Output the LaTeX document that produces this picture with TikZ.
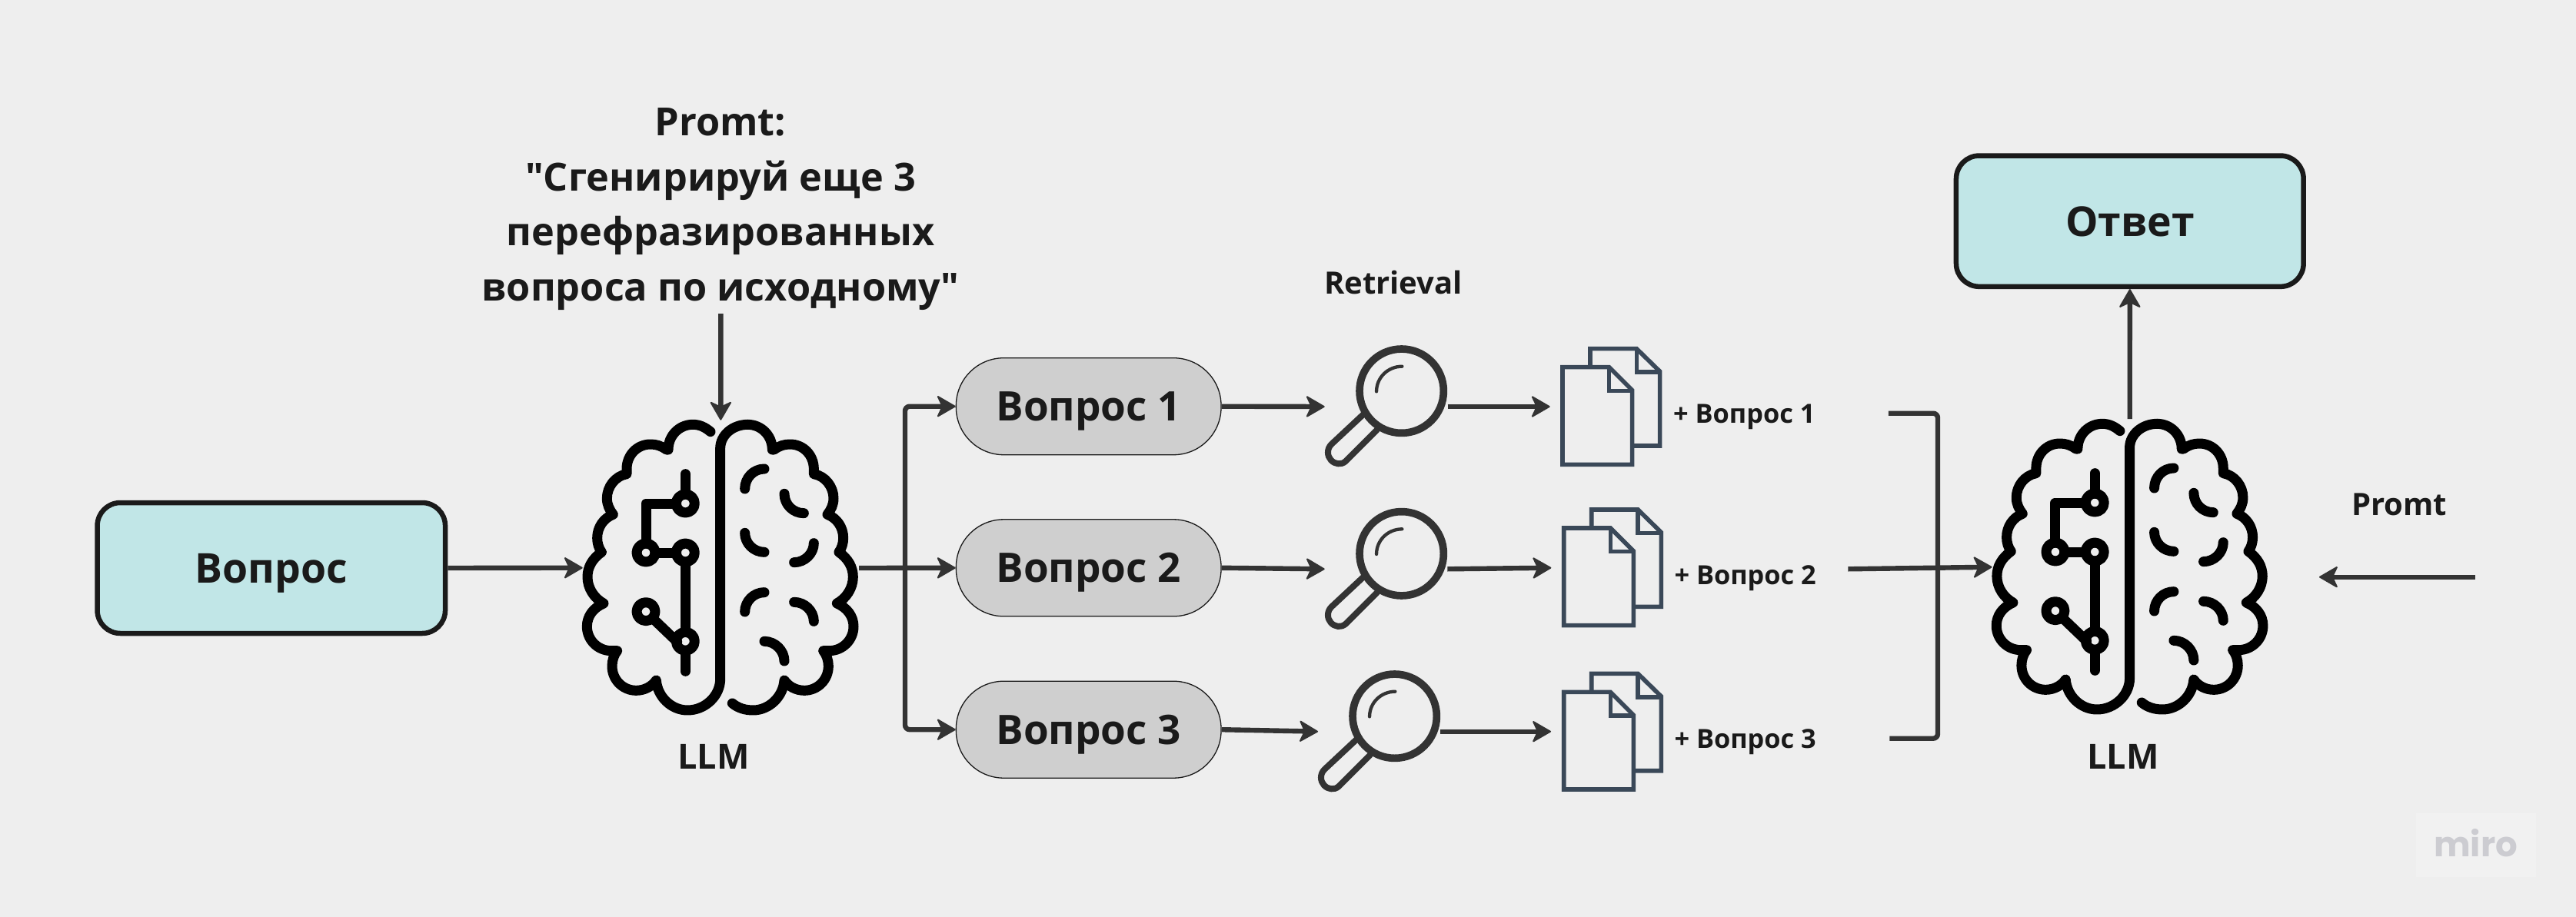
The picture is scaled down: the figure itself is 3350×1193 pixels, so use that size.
\documentclass[tikz,border=0pt]{standalone}
\usepackage{fontspec}
\newfontfamily\mainf{Open Sans}
\newfontfamily\mirofont{Poppins}
\usetikzlibrary{arrows.meta}
\definecolor{bgc}{HTML}{EEEEEE}
\definecolor{teal}{HTML}{C1E6E7}
\definecolor{pillc}{HTML}{CFCFCF}
\definecolor{ink}{HTML}{1A1A1A}
\definecolor{wire}{HTML}{333333}
\definecolor{docc}{HTML}{3A4858}
\tikzset{
  tealbox/.style={draw=ink,fill=teal,line width=6.5pt,rounded corners=30pt,inner sep=0pt,font=\mainf\bfseries\fontsize{53.5}{60}\selectfont,text=ink,text height=39pt,text depth=0pt},
  pillbox/.style={draw=ink,fill=pillc,line width=1.3pt,rounded corners=62pt,minimum width=344.7pt,minimum height=126pt,inner sep=0pt,font=\mainf\bfseries\fontsize{53}{60}\selectfont,text=ink,text height=38pt,text depth=0pt},
  wireline/.style={draw=wire,line width=6.4pt},
  wirearrow/.style={wireline,-{Stealth[length=26pt,width=30pt,inset=7pt,line width=2pt,round]}},
  smalllabel/.style={inner sep=0pt,anchor=base west,text=ink,font=\mainf\bfseries\fontsize{34.3}{38}\selectfont},
  label/.style={inner sep=0pt,anchor=base,text=ink,font=\mainf\bfseries\fontsize{40}{44}\selectfont},
  llm/.style={inner sep=0pt,anchor=base,text=ink,font=\mainf\bfseries\fontsize{45}{50}\selectfont},
  brainstroke/.style={draw=black,line width=13pt,line cap=round,line join=round},
  magstroke/.style={draw=wire,line cap=round,line join=round},
  docstroke/.style={draw=docc,line width=5.6pt,line join=miter}
}
\newcommand{\brainside}[1]{%
 \draw[brainstroke] #1 (543,157) .. controls (490,157) and (447,200) .. (447,255)
 -- (440,255) .. controls (420,240) and (400,234) .. (378,234)
 .. controls (325,234) and (285,277) .. (285,330) -- (285,350)
 .. controls (240,358) and (208,400) .. (208,445) .. controls (208,470) and (218,490) .. (232,508)
 .. controls (195,522) and (170,558) .. (170,600) .. controls (170,620) and (176,640) .. (187,655)
 .. controls (152,680) and (132,712) .. (132,752) .. controls (132,795) and (158,835) .. (195,855)
 .. controls (155,872) and (130,905) .. (130,945) .. controls (130,998) and (173,1040) .. (225,1040) -- (248,1040)
 .. controls (235,1055) and (228,1078) .. (228,1100) .. controls (228,1153) and (270,1195) .. (322,1195)
 .. controls (355,1195) and (385,1178) .. (400,1155)
 .. controls (405,1220) and (460,1272) .. (522,1272)}
\newcommand{\brainicon}[2]{%
 \begin{scope}[shift={(#1,#2)},x=.33333pt,y=-.33333pt]
  \brainside{(612,185) .. controls (590,167) and (570,157) .. } .. controls (592,1272) and (650,1215) .. (650,1150)
     -- (650,250) .. controls (650,197) and (700,157) .. (757,157);
  \begin{scope}[shift={(1300,0)},xscale=-1]
   \brainside{} .. controls (552,1272) and (580,1264) .. (603,1245);
  \end{scope}
  \draw[brainstroke] (514,350) -- (514,429);
  \draw[brainstroke] (478,465) -- (360,465) -- (360,621);
  \draw[brainstroke] (396,657) -- (478,657);
  \draw[brainstroke] (514,693) -- (514,967);
  \draw[brainstroke] (386,913) -- (482,1005);
  \draw[brainstroke] (514,1039) -- (514,1120);
  \foreach \cx/\cy in {514/465,360/657,514/657,360/887,514/1003}
    \draw[brainstroke] (\cx,\cy) circle[radius=36];
  \draw[brainstroke] (822,330) .. controls (780,330) and (746,365) .. (746,408);
  \draw[brainstroke] (900,427) .. controls (900,470) and (935,503) .. (976,503);
  \draw[brainstroke] (746,580) .. controls (746,620) and (780,655) .. (822,655);
  \draw[brainstroke] (1015,620) .. controls (1015,660) and (980,695) .. (938,695);
  \draw[brainstroke] (822,812) .. controls (780,812) and (746,847) .. (746,888);
  \draw[brainstroke] (938,850) .. controls (980,850) and (1015,885) .. (1015,925);
  \draw[brainstroke] (822,1003) .. controls (865,1003) and (900,1040) .. (900,1080);
 \end{scope}}
\newcommand{\magicon}[2]{%
 \begin{scope}[shift={(#1-122.67,#2-88.67)},x=.33333pt,y=-.33333pt]
  \draw[magstroke,line width=9.7pt] (368,266) circle[radius=164];
  \draw[magstroke,line width=4.3pt] (370,170) .. controls (315,170) and (270,213) .. (270,268);
  \draw[magstroke,line width=8pt] (218,358) -- (95,473) .. controls (75,492) and (78,520) .. (92,535)
     .. controls (107,552) and (132,556) .. (150,540) -- (272,418);
 \end{scope}}
\newcommand{\docicon}[2]{%
 \begin{scope}[shift={(#1,#2)},x=.33333pt,y=-.33333pt]
  \draw[docstroke] (1104,173) -- (1104,101) -- (1285,101) -- (1376,190) -- (1376,480) -- (1268,480);
  \draw[docstroke] (1285,101) -- (1285,192) -- (1376,192);
  \draw[docstroke] (996,173) -- (1178,173) -- (1268,263) -- (1268,553) -- (996,553) -- cycle;
  \draw[docstroke] (1178,173) -- (1178,265) -- (1268,265);
 \end{scope}}
\begin{document}
\begin{tikzpicture}[x=1pt,y=-1pt]
\useasboundingbox (0,0) rectangle (3350,1193);
\fill[bgc] (0,0) rectangle (3350,1193);
% watermark
\fill[white,opacity=.2] (3141.7,1057.7) rectangle (3298,1140.7);
\node[inner sep=0pt,anchor=base,text=black!10!blue!5!gray!38!white] (miro) at (3219.5,1114) {\mirofont\bfseries\fontsize{45}{50}\selectfont miro};
% boxes
\node[tealbox,minimum width=452.5pt,minimum height=170pt] (q) at (352.8,739) {Вопрос};
\node[tealbox,minimum width=451.7pt,minimum height=170.3pt] (ans) at (2769.8,287.7) {Ответ};
\node[pillbox] (p1) at (1415.7,528.7) {Вопрос 1};
\node[pillbox] (p2) at (1415.7,738.8) {Вопрос 2};
\node[pillbox] (p3) at (1415.7,949.2) {Вопрос 3};
% icons
\brainicon{720}{500}
\brainicon{2552.9}{499}
\magicon{1822.7}{508.7}
\magicon{1822.7}{720.3}
\magicon{1813.7}{931.7}
\docicon{1700}{420}
\docicon{1701.7}{629.3}
\docicon{1701.7}{842.7}
% texts
\node[inner sep=0pt,align=center,text=ink,font=\mainf\bfseries\fontsize{50.4}{71.7}\selectfont] (prompt) at (937,272)
 {Promt:\\"Сгенирируй еще 3\\перефразированных\\вопроса по исходному"};
\node[label] (ret) at (1812,382) {Retrieval};
\node[label] (pr2) at (3120.3,670) {Promt};
\node[llm] (l1) at (928,1000) {LLM};
\node[llm] (l2) at (2761,1000) {LLM};
\node[smalllabel] (t1) at (2176,550.7) {+ Вопрос 1};
\node[smalllabel] (t2) at (2177.3,760) {+ Вопрос 2};
\node[smalllabel] (t3) at (2177.3,973.3) {+ Вопрос 3};
% anchors for connectors
\coordinate (b1w) at (757.7,738.7);
\coordinate (b1e) at (1117,739);
\coordinate (b1n) at (937.3,546.7);
\coordinate (tr) at (1177,739);
\coordinate (ptop) at (937.4,408);
\coordinate (m1w) at (1722.7,529);
\coordinate (m2w) at (1722.7,740.3);
\coordinate (m3w) at (1714,951.7);
\coordinate (m1e) at (1882.7,529);
\coordinate (m2e) at (1882.3,740.3);
\coordinate (m3e) at (1873.3,951.7);
\coordinate (d1w) at (2015.7,529);
\coordinate (d2w) at (2017.3,738.7);
\coordinate (d3w) at (2017,951.7);
\coordinate (brt) at (2455.8,537.7);
\coordinate (brb) at (2457.3,960.7);
\coordinate (brc) at (2403.3,740.3);
\coordinate (b2w) at (2590.5,737.7);
\coordinate (b2n) at (2769.7,545);
\coordinate (promptend) at (3218.7,750.7);
\coordinate (b2e) at (3016,750.7);
% connectors
\draw[wirearrow] (q.east) -- (b1w);
\draw[wirearrow] (ptop) -- (b1n);
\draw[wirearrow] (b1e) -- (p2.west);
\draw[wirearrow,rounded corners=6pt] (tr) |- (p1.west);
\draw[wirearrow,rounded corners=6pt] (tr) |- (p3.west);
\draw[wirearrow] (p1.east) -- (m1w);
\draw[wirearrow] (p2.east) -- (m2w);
\draw[wirearrow] (p3.east) -- (m3w);
\draw[wirearrow] (m1e) -- (d1w);
\draw[wirearrow] (m2e) -- (d2w);
\draw[wirearrow] (m3e) -- (d3w);
\draw[wireline,rounded corners=6pt] (brt) -- (2520,537.7) -- (2520,960.7) -- (brb);
\draw[wirearrow] (brc) -- (b2w);
\draw[wirearrow] (b2n) -- (ans.south);
\draw[wirearrow] (promptend) -- (b2e);
\end{tikzpicture}
\end{document}
